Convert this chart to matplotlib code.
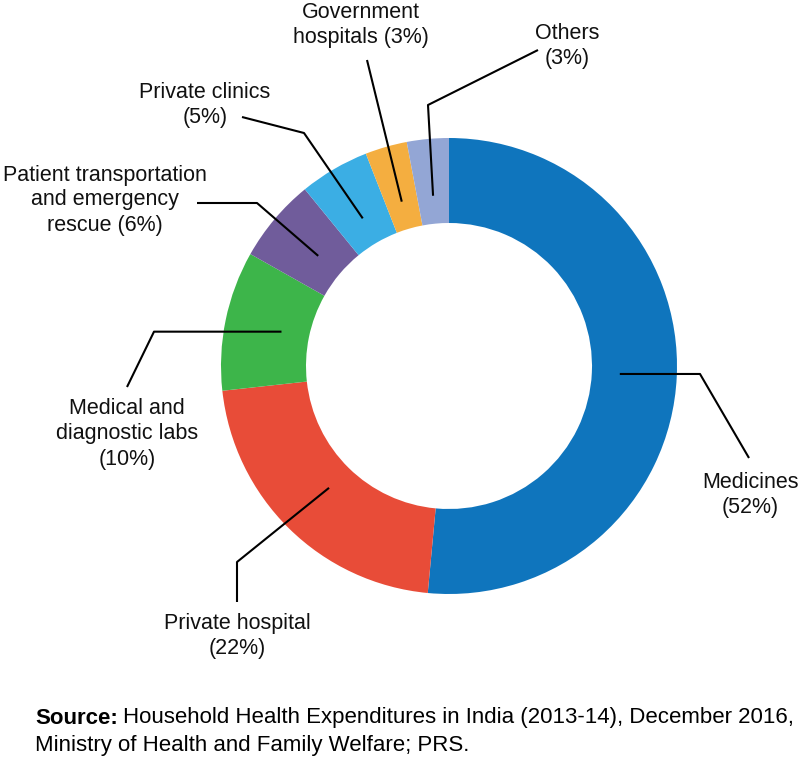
import numpy as np
import matplotlib
matplotlib.use("Agg")
import matplotlib.pyplot as plt

categories = ["Medicines", "Private hospital", "Medical and\ndiagnostic labs",
              "Patient transportation\nand emergency\nrescue", "Private clinics",
              "Government\nhospitals", "Others"]
shares = [52, 22, 10, 6, 5, 3, 3]
labels = ["Medicines\n(52%)", "Private hospital\n(22%)", "Medical and\ndiagnostic labs\n(10%)",
          "Patient transportation\nand emergency\nrescue (6%)", "Private clinics\n(5%)",
          "Government\nhospitals (3%)", "Others\n(3%)"]
colors = ["#0F75BD", "#E84C38", "#3DB54A", "#705C9B", "#3BAEE4", "#F4AE40", "#93A6D5"]

W, H = 800, 761
plt.rcParams["font.family"] = ["Liberation Sans", "DejaVu Sans"]

fig = plt.figure(figsize=(W / 100, H / 100), dpi=100)
ax = fig.add_axes([0, 0, 1, 1])

def Y(py):
    # picture rows run downwards, data y runs upwards
    return H - py

cx, cy, R = 449, 366, 228
wedges, _ = ax.pie(shares, colors=colors, startangle=90, counterclock=False,
                   center=(cx, Y(cy)), radius=R, frame=True,
                   wedgeprops=dict(width=85, linewidth=0))
ax.set_xlim(0, W)
ax.set_ylim(0, H)
ax.set_aspect("equal")
ax.axis("off")

# leader line elbows / ends and label centres, in picture pixels
paths = [
    [(700, None), (749, 458)],
    [(237, 562), (237, 602)],
    [(154, None), (127, 387)],
    [(257, 203), (197, 203)],
    [(304, 133), (242, 117)],
    [(367, 60)],
    [(428, 105), (538, 50)],
]
label_pos = [(750, 495), (237, 636), (127, 434), (105, 200), (205, 105), (361, 25), (567, 46)]

for w, path, text, (tx, ty) in zip(wedges, paths, labels, label_pos):
    mid = np.deg2rad((w.theta1 + w.theta2) / 2)
    r = 0.75 * R
    x0 = cx + r * np.cos(mid)
    y0 = Y(cy) + r * np.sin(mid)
    xs, ys = [x0], [y0]
    for px, py in path:
        xs.append(px)
        ys.append(y0 if py is None else Y(py))
    ax.plot(xs, ys, color="black", lw=1.5, solid_capstyle="butt")
    ax.text(tx, Y(ty), text, ha="center", va="center", fontsize=15.5,
            linespacing=1.25, color="#111111")

src = ax.text(35, Y(718), "Source:", fontsize=16, fontweight="bold",
              ha="left", va="center")
fig.canvas.draw()
bb = src.get_window_extent(renderer=fig.canvas.get_renderer())
ax.text(35 + bb.width + 5, Y(718),
        "Household Health Expenditures in India (2013-14), December 2016,",
        fontsize=16, ha="left", va="center")
ax.text(35, Y(745), "Ministry of Health and Family Welfare; PRS.",
        fontsize=16, ha="left", va="center")

fig.savefig("out.png", dpi=100, facecolor="white")
